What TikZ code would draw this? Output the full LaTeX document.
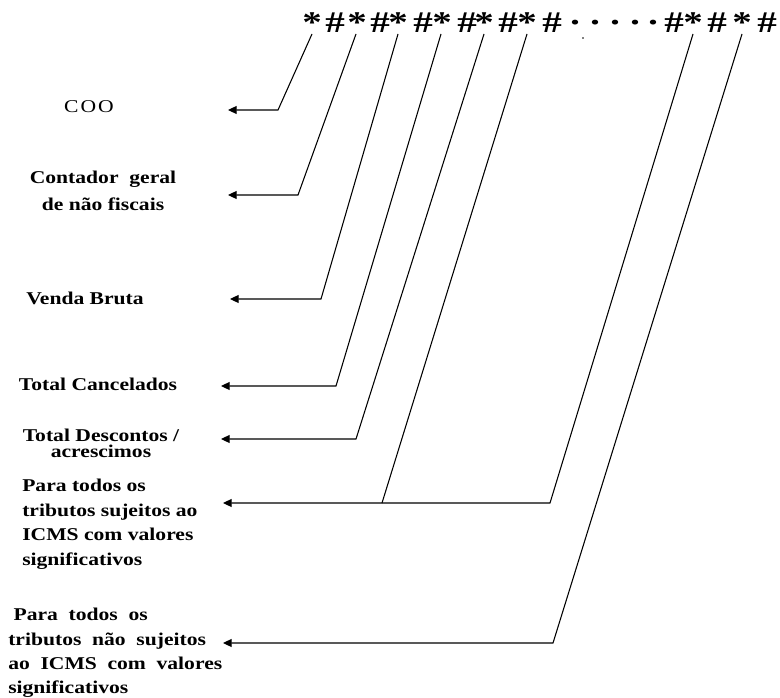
\documentclass[tikz,border=0pt]{standalone}
\usepackage{fontspec}
\setmainfont{Liberation Serif}
\newfontfamily\reffont[FakeStretch=1.2]{Liberation Serif}
\newfontfamily\topfont[FakeStretch=1.3]{Liberation Serif}
\usetikzlibrary{arrows.meta}
\newcommand\wsp{\hspace{8pt}}
\begin{document}
\begin{tikzpicture}[x=0.75pt,y=-0.75pt,
  conn/.style={draw=black,line width=0.8pt,line join=miter},
  arr/.style={conn,-{Triangle[length=6.5pt,width=6pt]}},
  lab/.style={inner sep=0pt,font=\reffont\bfseries\fontsize{13.5}{#1}\selectfont},
  lab/.default=16,
  topchar/.style={inner sep=0pt,anchor=base,font=\topfont\bfseries\fontsize{22.5}{22.5}\selectfont}]
\useasboundingbox (0,0) rectangle (780,698);
\fill[white] (0,0) rectangle (780,698);

% top character string
\foreach \x/\c [count=\i] in {312/*,335/\#,357/*,380/\#,398/*,423/\#,442/*,467/\#,484/*,508/\#,527/*,552/\#,575/·,595/·,615/·,635/·,653/·,674/\#,693/*,717/\#,742/*,767/\#}
  \node[topchar] (c\i) at (\x,33) {\c};
\fill (583,38) circle (0.8);

% labels
\node[inner sep=0pt,font=\reffont\mdseries\fontsize{13.5}{16}\selectfont] (coo) at (89,107) {C\hspace{1.5pt}O\hspace{1.5pt}O};
\node[lab=20.25,align=center,anchor=north] (cont) at (103,171) {Contador~~geral\\de não fiscais};
\node[lab] (venda) at (85,298) {Venda Bruta};
\node[lab] (canc) at (98,384) {Total Cancelados};
\node[lab=12,align=center,anchor=north] (desc) at (101,429) {Total Descontos /\\acrescimos};
\node[lab=18.4,align=left,anchor=north west] (suj) at (22,479) {Para todos os\\tributos sujeitos ao\\ICMS com valores\\significativos};
\node[lab=18.2,align=left,anchor=north west] (nsuj) at (8,608) {\hspace*{4pt}Para\wsp todos\wsp os\\tributos\wsp não\wsp sujeitos\\ao\wsp ICMS\wsp com\wsp valores\\significativos};

% connector points
\coordinate (t1) at (312,34); \coordinate (k1) at (278,110); \coordinate (a1) at (228,110);
\coordinate (t2) at (356,34); \coordinate (k2) at (298,195); \coordinate (a2) at (228,195);
\coordinate (t3) at (398,34); \coordinate (k3) at (321,299); \coordinate (a3) at (230,299);
\coordinate (t4) at (441,34); \coordinate (k4) at (336,386); \coordinate (a4) at (221,386);
\coordinate (t5) at (484,34); \coordinate (k5) at (356,439); \coordinate (a5) at (221,439);
\coordinate (t6) at (527,34); \coordinate (k6) at (382,503);
\coordinate (t7) at (693,34); \coordinate (k7) at (550,503); \coordinate (a6) at (223,503);
\coordinate (t8) at (742,34); \coordinate (k8) at (553,643); \coordinate (a7) at (223,643);

\draw[arr] (t1) -- (k1) -- (a1);
\draw[arr] (t2) -- (k2) -- (a2);
\draw[arr] (t3) -- (k3) -- (a3);
\draw[arr] (t4) -- (k4) -- (a4);
\draw[arr] (t5) -- (k5) -- (a5);
\draw[conn] (t6) -- (k6);
\draw[arr] (t7) -- (k7) -- (a6);
\draw[arr] (t8) -- (k8) -- (a7);
\end{tikzpicture}
\end{document}
